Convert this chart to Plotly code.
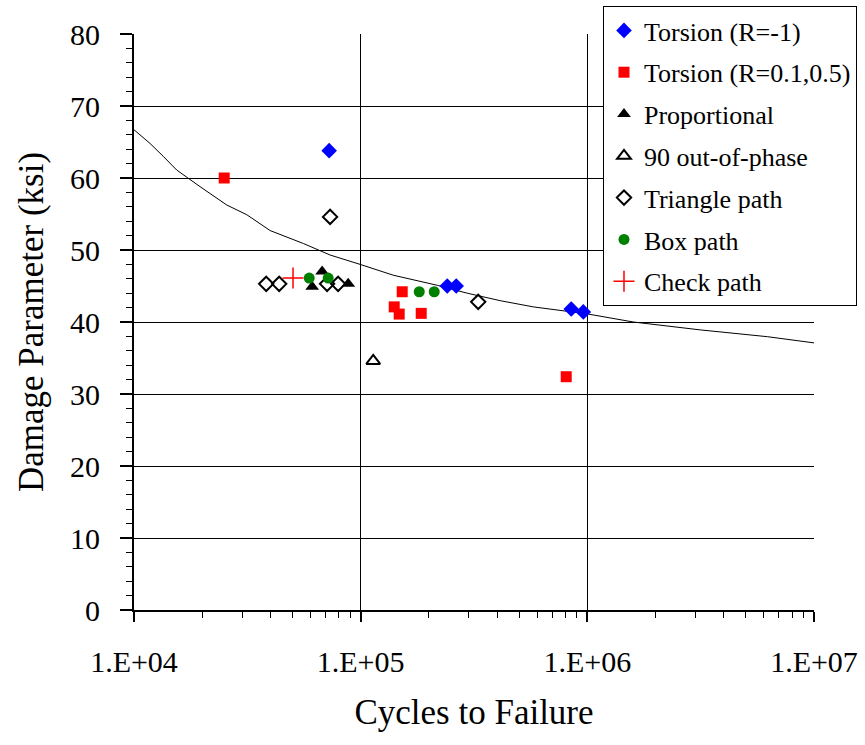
import plotly.graph_objects as go

# Fatigue data: cycles to failure vs. damage parameter (ksi)
torsion_rm1_N = [72600, 241000, 264000, 849000, 960000]
torsion_rm1_S = [63.8, 45.0, 45.0, 41.8, 41.4]

torsion_rpos_N = [25000, 140600, 147900, 152500, 185000, 807000]
torsion_rpos_S = [60.0, 42.1, 41.1, 44.2, 41.2, 32.4]

prop_N = [61100, 67600, 88100]
prop_S = [44.9, 47.0, 45.3]

oop_N = [113600]
oop_S = [34.6]

tri_N = [38300, 43700, 71100, 73300, 79500, 330000]
tri_S = [45.3, 45.3, 45.3, 54.6, 45.3, 42.8]

box_N = [59300, 71900, 181300, 211100]
box_S = [46.1, 46.1, 44.2, 44.2]

check_N = [50300]
check_S = [46.1]

# Life curve
curve_N = [10000, 11770, 13470, 15440, 19560, 25660, 31450, 39850, 55900,
           73350, 99500, 139200, 217600, 295300, 413000, 577600, 1010000,
           1596000, 3155000, 6232000, 10000000]
curve_S = [66.7, 64.8, 63.0, 61.1, 58.8, 56.25, 54.9, 52.7, 50.9,
           49.3, 48.0, 46.5, 45.1, 44.0, 42.96, 42.1, 41.1,
           40.0, 38.9, 37.96, 37.1]

x_tickvals = [1e4, 1e5, 1e6, 1e7]
x_ticktext = ["1.E+04", "1.E+05", "1.E+06", "1.E+07"]
y_tickvals = [0, 10, 20, 30, 40, 50, 60, 70, 80]

FONT = "Liberation Serif"

fig = go.Figure()

fig.add_trace(go.Scatter(x=curve_N, y=curve_S, mode="lines",
                         line=dict(color="black", width=1), showlegend=False,
                         hoverinfo="skip"))

series = [
    (torsion_rm1_N, torsion_rm1_S, "Torsion (R=-1)",
     dict(symbol="diamond", size=12, color="#0000FF")),
    (torsion_rpos_N, torsion_rpos_S, "Torsion (R=0.1,0.5)",
     dict(symbol="square", size=11, color="#FF0000")),
    (prop_N, prop_S, "Proportional",
     dict(symbol="triangle-up", size=12, color="black")),
    (oop_N, oop_S, "90 out-of-phase",
     dict(symbol="triangle-up-open", size=12, color="black", line=dict(width=2))),
    (tri_N, tri_S, "Triangle path",
     dict(symbol="diamond-open", size=11, color="black", line=dict(width=2))),
    (box_N, box_S, "Box path",
     dict(symbol="circle", size=11, color="#008000")),
    (check_N, check_S, "Check path",
     dict(symbol="cross-thin", size=15, color="#FF0000",
          line=dict(width=1.5, color="#FF0000"))),
]

for i, (xs, ys, name, marker) in enumerate(series):
    fig.add_trace(go.Scatter(x=xs, y=ys, mode="markers", name=name,
                             legendgroup=f"g{i}", marker=marker))

fig.update_layout(
    width=865, height=745,
    margin=dict(l=134, r=51, t=34, b=135, autoexpand=False),
    paper_bgcolor="white", plot_bgcolor="white",
    font=dict(family=FONT, color="black", size=30),
    showlegend=True,
    legend=dict(
        x=0.6897, y=1.0486, xanchor="left", yanchor="top",
        bgcolor="white", bordercolor="black", borderwidth=1,
        font=dict(family=FONT, size=26, color="black"),
        itemwidth=30, tracegroupgap=5,
    ),
    xaxis=dict(
        type="log", range=[4, 7], automargin=False,
        tickvals=x_tickvals, ticktext=x_ticktext,
        tickfont=dict(family=FONT, size=30, color="black"),
        ticks="outside", ticklen=10, tickwidth=1.5, tickcolor="black",
        ticklabelstandoff=14,
        showline=True, linecolor="black", linewidth=2,
        showgrid=True, gridcolor="black", gridwidth=1,
        zeroline=False,
        minor=dict(ticks="outside", ticklen=6, tickwidth=1, tickcolor="black",
                   dtick="D1", showgrid=False),
        title=dict(text="Cycles to Failure",
                   font=dict(family=FONT, size=35, color="black"), standoff=22),
    ),
    yaxis=dict(
        range=[0, 80], automargin=False,
        tickvals=y_tickvals,
        tickfont=dict(family=FONT, size=30, color="black"),
        ticks="outside", ticklen=12, tickwidth=1.5, tickcolor="black",
        ticklabelstandoff=14,
        showline=True, linecolor="black", linewidth=2,
        showgrid=True, gridcolor="black", gridwidth=1,
        zeroline=False,
        minor=dict(ticks="outside", ticklen=6, tickwidth=1, tickcolor="black",
                   dtick=2, showgrid=False),
        title=dict(text="Damage Parameter (ksi)",
                   font=dict(family=FONT, size=35, color="black"), standoff=16),
    ),
)

fig.write_html("out.html")
